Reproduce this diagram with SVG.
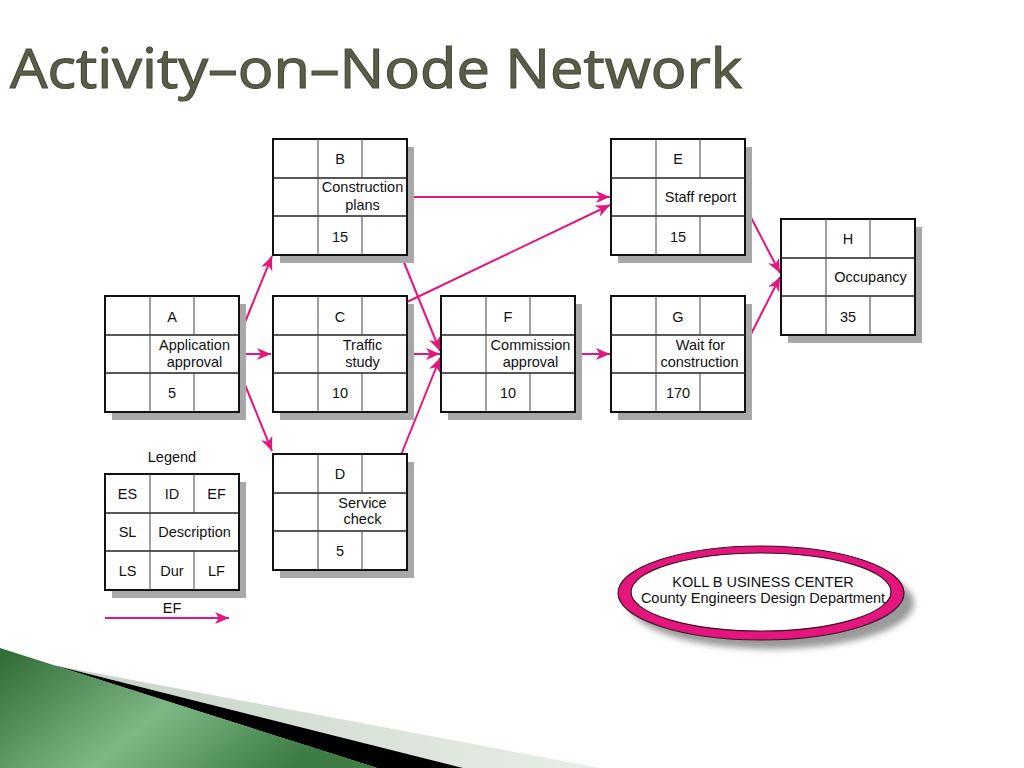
<svg xmlns="http://www.w3.org/2000/svg" width="1024" height="768" viewBox="0 0 1024 768">
<defs>
<style>
.sh{fill:#a8a8a8}
.bx{fill:#fff;stroke:#111;stroke-width:2}
.hl{stroke:#222;stroke-width:1.5}
.vl{stroke:#444;stroke-width:1}
.t{font-family:"Liberation Sans",Arial,sans-serif;font-size:14.5px;fill:#111;text-anchor:middle}
.c{stroke:#e4157d;stroke-width:2;fill:none;marker-end:url(#ah)}
</style>
<marker id="ah" markerUnits="userSpaceOnUse" markerWidth="16" markerHeight="14" refX="14" refY="6" orient="auto">
<path d="M0,0 L14,6 L0,12 L4,6 z" fill="#e4157d"/>
</marker>
<linearGradient id="gr" x1="0" y1="0" x2="1" y2="0.4">
<stop offset="0" stop-color="#2f6a36"/>
<stop offset="0.55" stop-color="#7db884"/>
<stop offset="1" stop-color="#3d7d45"/>
</linearGradient>
<linearGradient id="lg" x1="0" y1="0" x2="1" y2="0">
<stop offset="0" stop-color="#c5d3c5"/>
<stop offset="1" stop-color="#e8eee8"/>
</linearGradient>
<filter id="blur" x="-10%" y="-10%" width="120%" height="130%"><feGaussianBlur stdDeviation="3"/></filter>
</defs>
<rect width="1024" height="768" fill="#fff"/>

<g id="decor">
<polygon points="53,665 600,768 463,768" fill="url(#lg)"/>
<polygon points="53,665 463,768 377,768" fill="#000"/>
<polygon points="0,648 377,768 0,768" fill="url(#gr)"/>
</g>

<text x="10" y="88" font-family="'Open Sans',Lato,sans-serif" font-size="55" fill="#5a5e49" stroke="#4a4d3b" stroke-width="1.2" textLength="732" lengthAdjust="spacingAndGlyphs">Activity–on–Node Network</text>

<g id="connectors">
<line class="c" x1="239" y1="337" x2="272" y2="256"/>
<line class="c" x1="239" y1="354" x2="271" y2="354"/>
<line class="c" x1="239" y1="370" x2="272" y2="451"/>
<line class="c" x1="407" y1="197" x2="610" y2="197"/>
<line class="c" x1="401" y1="255" x2="440" y2="351"/>
<line class="c" x1="407" y1="302" x2="610" y2="205"/>
<line class="c" x1="407" y1="354" x2="440" y2="354"/>
<line class="c" x1="401" y1="455" x2="440" y2="358"/>
<line class="c" x1="575" y1="354" x2="610" y2="354"/>
<line class="c" x1="745" y1="206" x2="780" y2="273"/>
<line class="c" x1="745" y1="346" x2="780" y2="277"/>
<line class="c" x1="105" y1="618" x2="229" y2="618"/>
</g>

<g id="nodeA" transform="translate(105,296)">
<rect class="sh" x="7" y="8" width="134" height="116"/>
<rect class="bx" x="0" y="0" width="134" height="116"/>
<line class="hl" x1="0" y1="39" x2="134" y2="39"/><line class="hl" x1="0" y1="77" x2="134" y2="77"/>
<line class="vl" x1="45" y1="0" x2="45" y2="116"/><line class="vl" x1="89" y1="0" x2="89" y2="39"/><line class="vl" x1="89" y1="77" x2="89" y2="116"/>
<text class="t" x="67" y="26">A</text>
<text class="t" x="89.5" y="54">Application</text><text class="t" x="89.5" y="71">approval</text>
<text class="t" x="67" y="102">5</text>
</g>

<g id="nodeB" transform="translate(273,139)">
<rect class="sh" x="7" y="8" width="134" height="116"/>
<rect class="bx" x="0" y="0" width="134" height="116"/>
<line class="hl" x1="0" y1="39" x2="134" y2="39"/><line class="hl" x1="0" y1="77" x2="134" y2="77"/>
<line class="vl" x1="45" y1="0" x2="45" y2="116"/><line class="vl" x1="89" y1="0" x2="89" y2="39"/><line class="vl" x1="89" y1="77" x2="89" y2="116"/>
<text class="t" x="67" y="25">B</text>
<text class="t" x="89.5" y="53">Construction</text><text class="t" x="89.5" y="71">plans</text>
<text class="t" x="67" y="103">15</text>
</g>

<g id="nodeC" transform="translate(273,296)">
<rect class="sh" x="7" y="8" width="134" height="116"/>
<rect class="bx" x="0" y="0" width="134" height="116"/>
<line class="hl" x1="0" y1="39" x2="134" y2="39"/><line class="hl" x1="0" y1="77" x2="134" y2="77"/>
<line class="vl" x1="45" y1="0" x2="45" y2="116"/><line class="vl" x1="89" y1="0" x2="89" y2="39"/><line class="vl" x1="89" y1="77" x2="89" y2="116"/>
<text class="t" x="67" y="26">C</text>
<text class="t" x="89.5" y="54">Traffic</text><text class="t" x="89.5" y="71">study</text>
<text class="t" x="67" y="102">10</text>
</g>

<g id="nodeD" transform="translate(273,454)">
<rect class="sh" x="7" y="8" width="134" height="116"/>
<rect class="bx" x="0" y="0" width="134" height="116"/>
<line class="hl" x1="0" y1="39" x2="134" y2="39"/><line class="hl" x1="0" y1="77" x2="134" y2="77"/>
<line class="vl" x1="45" y1="0" x2="45" y2="116"/><line class="vl" x1="89" y1="0" x2="89" y2="39"/><line class="vl" x1="89" y1="77" x2="89" y2="116"/>
<text class="t" x="67" y="25">D</text>
<text class="t" x="89.5" y="54">Service</text><text class="t" x="89.5" y="70">check</text>
<text class="t" x="67" y="102">5</text>
</g>

<g id="nodeE" transform="translate(611,139)">
<rect class="sh" x="7" y="8" width="134" height="116"/>
<rect class="bx" x="0" y="0" width="134" height="116"/>
<line class="hl" x1="0" y1="39" x2="134" y2="39"/><line class="hl" x1="0" y1="77" x2="134" y2="77"/>
<line class="vl" x1="45" y1="0" x2="45" y2="116"/><line class="vl" x1="89" y1="0" x2="89" y2="39"/><line class="vl" x1="89" y1="77" x2="89" y2="116"/>
<text class="t" x="67" y="25">E</text>
<text class="t" x="89.5" y="63">Staff report</text>
<text class="t" x="67" y="103">15</text>
</g>

<g id="nodeF" transform="translate(441,296)">
<rect class="sh" x="7" y="8" width="134" height="116"/>
<rect class="bx" x="0" y="0" width="134" height="116"/>
<line class="hl" x1="0" y1="39" x2="134" y2="39"/><line class="hl" x1="0" y1="77" x2="134" y2="77"/>
<line class="vl" x1="45" y1="0" x2="45" y2="116"/><line class="vl" x1="89" y1="0" x2="89" y2="39"/><line class="vl" x1="89" y1="77" x2="89" y2="116"/>
<text class="t" x="67" y="26">F</text>
<text class="t" x="89.5" y="54">Commission</text><text class="t" x="89.5" y="71">approval</text>
<text class="t" x="67" y="102">10</text>
</g>

<g id="nodeG" transform="translate(611,296)">
<rect class="sh" x="7" y="8" width="134" height="116"/>
<rect class="bx" x="0" y="0" width="134" height="116"/>
<line class="hl" x1="0" y1="39" x2="134" y2="39"/><line class="hl" x1="0" y1="77" x2="134" y2="77"/>
<line class="vl" x1="45" y1="0" x2="45" y2="116"/><line class="vl" x1="89" y1="0" x2="89" y2="39"/><line class="vl" x1="89" y1="77" x2="89" y2="116"/>
<text class="t" x="67" y="26">G</text>
<text class="t" x="89.5" y="54">Wait for</text><text class="t" x="88.5" y="71">construction</text>
<text class="t" x="67" y="102">170</text>
</g>

<g id="nodeH" transform="translate(781,219)">
<rect class="sh" x="7" y="8" width="134" height="116"/>
<rect class="bx" x="0" y="0" width="134" height="116"/>
<line class="hl" x1="0" y1="39" x2="134" y2="39"/><line class="hl" x1="0" y1="77" x2="134" y2="77"/>
<line class="vl" x1="45" y1="0" x2="45" y2="116"/><line class="vl" x1="89" y1="0" x2="89" y2="39"/><line class="vl" x1="89" y1="77" x2="89" y2="116"/>
<text class="t" x="67" y="25">H</text>
<text class="t" x="89.5" y="63">Occupancy</text>
<text class="t" x="67" y="103">35</text>
</g>

<g id="legend">
<text class="t" x="172" y="462">Legend</text>
<g transform="translate(105,474)">
<rect class="sh" x="7" y="8" width="134" height="116"/>
<rect class="bx" x="0" y="0" width="134" height="116"/>
<line class="hl" x1="0" y1="39" x2="134" y2="39"/><line class="hl" x1="0" y1="77" x2="134" y2="77"/>
<line class="vl" x1="45" y1="0" x2="45" y2="116"/><line class="vl" x1="89" y1="0" x2="89" y2="39"/><line class="vl" x1="89" y1="77" x2="89" y2="116"/>
<text class="t" x="22.5" y="25">ES</text><text class="t" x="67" y="25">ID</text><text class="t" x="111.5" y="25">EF</text>
<text class="t" x="22.5" y="63">SL</text><text class="t" x="89.5" y="63">Description</text>
<text class="t" x="22.5" y="102">LS</text><text class="t" x="67" y="102">Dur</text><text class="t" x="111.5" y="102">LF</text>
</g>
<text class="t" x="172" y="613">EF</text>
</g>

<g id="title-block">
<ellipse cx="771" cy="603" rx="143" ry="46" fill="#9a9a9a" filter="url(#blur)"/>
<ellipse cx="761" cy="593" rx="143" ry="47" fill="#e4157d" stroke="#3a1020" stroke-width="1.2"/>
<ellipse cx="761" cy="592" rx="130" ry="39" fill="#fff" stroke="#3a1020" stroke-width="1.2"/>
<text class="t" x="763" y="587">KOLL B<tspan dx="4">USINESS CENTER</tspan></text>
<text class="t" x="763" y="603">County Engineers Design Department</text>
</g>
</svg>
